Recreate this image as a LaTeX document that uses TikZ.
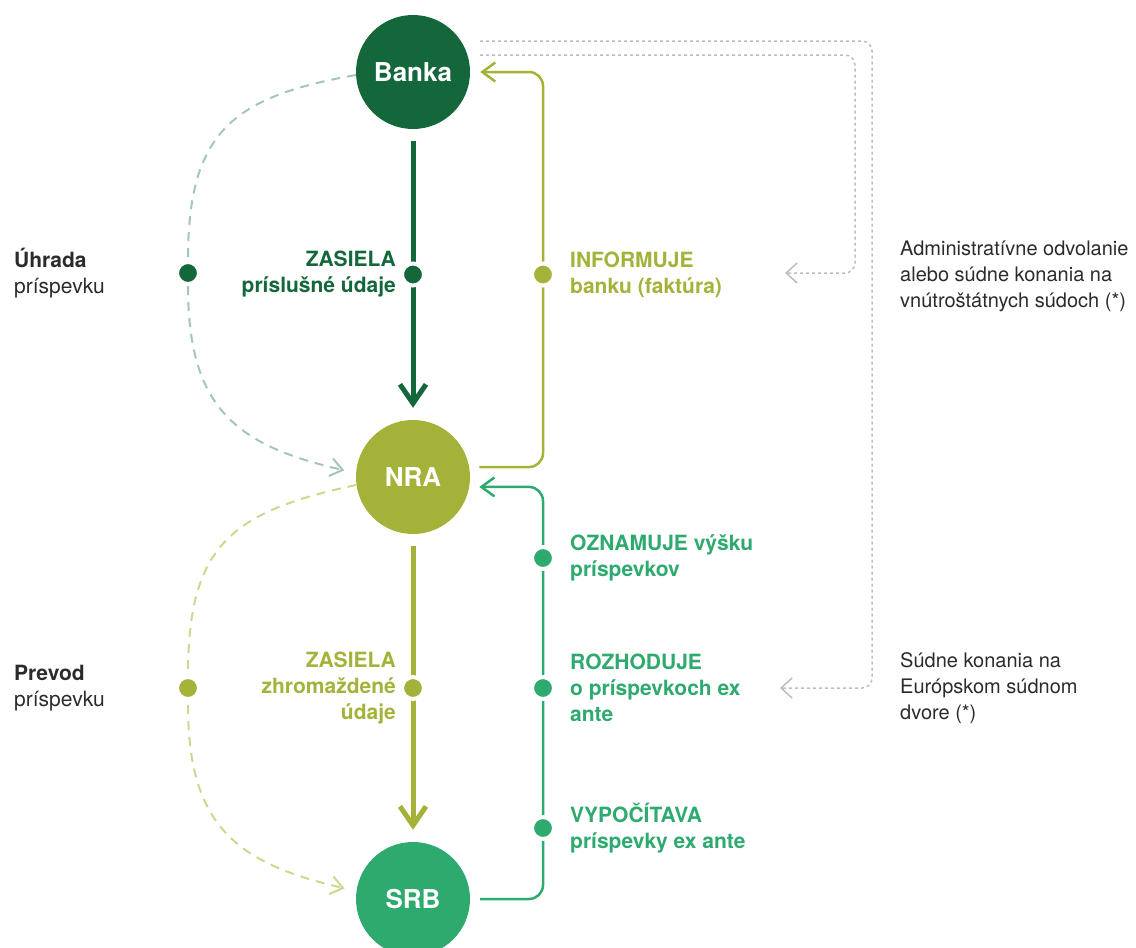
\documentclass[tikz,border=0pt]{standalone}
\usepackage{fontspec}
\setmainfont{TeX Gyre Heros}
\usepackage{tikz}
\usetikzlibrary {arrows.meta,
                 positioning}
\definecolor{bankgreen}{HTML}{14673A}
\definecolor{nraolive}{HTML}{A5B23A}
\definecolor{srbgreen}{HTML}{2FAA6F}
\definecolor{paysage}{HTML}{A3C7B4}
\definecolor{transferlime}{HTML}{CCD88F}
\definecolor{courtgray}{HTML}{BDBDBD}
\definecolor{textgray}{HTML}{2B2B2B}
\tikzset{
        party/.style={circle, fill=#1, minimum size=114pt, inner sep=0pt,
                      text=white, font=\fontsize{26}{30}\selectfont\bfseries},
        dot/.style={circle, fill=#1, draw=white, line width=4pt,
                    minimum size=22pt, inner sep=0pt},
        lbl/.style={inner sep=0pt, text=#1,
                    font=\fontsize{21}{26}\selectfont\bfseries},
        lbl left/.style={lbl=#1, align=right},
        lbl right/.style={lbl=#1, align=left},
        sidelbl/.style={inner sep=0pt, align=left, text=textgray,
                        font=\fontsize{21}{26}\selectfont},
        courtlbl/.style={sidelbl, font=\fontsize{20}{26}\selectfont},
        sendarrow/.style={draw=#1, line width=5pt,
                          -{Straight Barb[length=19pt, width=26pt]},
                          shorten <=12pt, shorten >=12pt},
        railarrow/.style={draw=#1, line width=2.5pt, rounded corners=14pt,
                          -{Straight Barb[length=13pt, width=19pt]},
                          shorten <=10pt, shorten >=10pt},
        payarrow/.style={draw=#1, line width=2pt, dash pattern=on 9pt off 7pt,
                         -{Straight Barb[length=12pt, width=18pt]}},
        courtarrow/.style={draw=courtgray, line width=1.5pt,
                           dash pattern=on 3pt off 3pt, rounded corners=10pt,
                           -{Straight Barb[length=11pt, width=20pt]}},
 }

\begin{document}
\begin{tikzpicture}[x=1pt, y=1pt]
    \useasboundingbox (0,0) rectangle (1136,-948);

    \node[party=bankgreen] (banka) at (413,-72) {Banka};
    \node[party=nraolive] (nra) at (413,-477) {NRA};
    \node[party=srbgreen] (srb) at (413,-899) {SRB};
    \coordinate (rail) at (543,0);

    \draw[sendarrow=bankgreen] (banka) -- node[dot=bankgreen] (zas1) {} (nra);
    \draw[sendarrow=nraolive] (nra) -- node[dot=nraolive] (zas2) {} (srb);

    \draw[railarrow=nraolive] (nra.10) -| (rail |- banka) -- (banka.east);
    \draw[railarrow=srbgreen] (srb.east) -| (rail |- nra.-10) -- (nra.-10);

    \node[dot=nraolive] (inf) at (rail |- zas1) {};
    \node[dot=srbgreen] (ozn) at (543,-558) {};
    \node[dot=srbgreen] (roz) at (rail |- zas2) {};
    \node[dot=srbgreen] (vyp) at (543,-828) {};

    \node[lbl left=bankgreen, left=4pt of zas1] {ZASIELA\\príslušné údaje};
    \node[lbl left=nraolive, left=4pt of zas2] {ZASIELA\\zhromaždené\\údaje};
    \node[lbl right=nraolive, right=14pt of inf] {INFORMUJE\\banku (faktúra)};
    \node[lbl right=srbgreen, right=14pt of ozn] {OZNAMUJE výšku\\príspevkov};
    \node[lbl right=srbgreen, right=14pt of roz] {ROZHODUJE\\o príspevkoch ex\\ante};
    \node[lbl right=srbgreen, right=14pt of vyp] {VYPOČÍTAVA\\príspevky ex ante};

    \node[dot=bankgreen] (pay) at (188,-273) {};
    \node[dot=nraolive] (trans) at (188,-688) {};
    \draw[payarrow=paysage, shorten >=12pt] (banka.183)
        to[out=190, in=90, looseness=1.3] (pay)
        to[out=-90, in=167, looseness=1.25] (nra.176);
    \draw[payarrow=transferlime, shorten <=4pt, shorten >=12pt] (nra.188)
        to[out=192, in=90, looseness=1.3] (trans)
        to[out=-90, in=167, looseness=1.25] (srb.172);

    \node[sidelbl, anchor=west] (uhrada) at (14,-273) {\textbf{Úhrada}\\príspevku};
    \node[sidelbl, anchor=west] (prevod) at (14,-688) {\textbf{Prevod}\\príspevku};

    \node[courtlbl, anchor=west] (admin) at (900,-276)
        {Administratívne odvolanie\\alebo súdne konania na\\vnútroštátnych súdoch (*)};
    \node[courtlbl, anchor=west] (eudvor) at (900,-688)
        {Súdne konania na\\Európskom súdnom\\dvore (*)};

    \coordinate (natcourt) at (785,-273);
    \coordinate (eucourt) at (780,-688);
    \draw[courtarrow] ([shift={(10pt,17pt)}]banka.east) -| (855,-273) -- (natcourt);
    \draw[courtarrow] ([shift={(10pt,31pt)}]banka.east) -| (872,-688) -- (eucourt);
\end{tikzpicture}
\end{document}
